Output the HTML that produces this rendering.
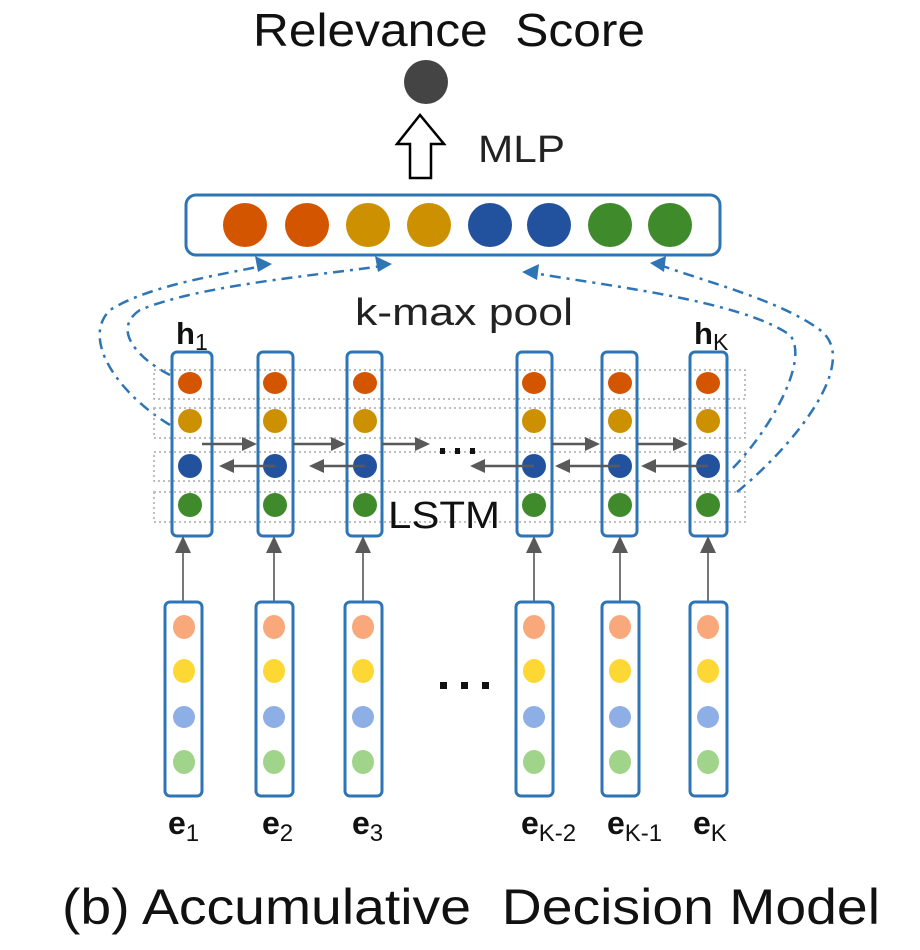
<!DOCTYPE html>
<html><head><style>
html,body{margin:0;padding:0;background:#fff;}
svg{display:block;}
text{font-family:"Liberation Sans",Arial,sans-serif;}
</style></head><body>
<svg width="920" height="950" viewBox="0 0 920 950" xmlns="http://www.w3.org/2000/svg">
<!-- Title -->
<text x="449" y="46" font-size="46" text-anchor="middle" fill="#111" textLength="392" lengthAdjust="spacingAndGlyphs">Relevance&#160;&#160;Score</text>
<circle cx="426" cy="82" r="22" fill="#444"/>
<polygon points="420,115 397,144 410,144 410,178 431,178 431,144 444,144" fill="#fff" stroke="#000" stroke-width="2.5"/>
<text x="478" y="162" font-size="38" fill="#222" textLength="87" lengthAdjust="spacingAndGlyphs">MLP</text>

<!-- pool box -->
<rect x="186" y="195" width="534" height="60" rx="10" fill="#fff" stroke="#2e75b6" stroke-width="3"/>
<circle cx="245" cy="225" r="22" fill="#d45500"/>
<circle cx="307" cy="225" r="22" fill="#d45500"/>
<circle cx="368" cy="225" r="22" fill="#cc9000"/>
<circle cx="429" cy="225" r="22" fill="#cc9000"/>
<circle cx="490" cy="225" r="22" fill="#22529e"/>
<circle cx="549" cy="225" r="22" fill="#22529e"/>
<circle cx="610" cy="225" r="22" fill="#3f8a2a"/>
<circle cx="670" cy="225" r="22" fill="#3f8a2a"/>

<text x="355" y="325" font-size="38" fill="#222" textLength="218" lengthAdjust="spacingAndGlyphs">k-max pool</text>

<g fill="none" stroke="#2e75b6" stroke-width="2.5" stroke-dasharray="11,6,3,6">
<path d="M170,425 C120,395 80,340 110,310 C150,285 220,275 262,266"/>
<path d="M170,375 C140,360 110,330 140,310 C200,285 320,275 382,266"/>
<path d="M737,492 C800,440 860,360 820,330 C780,300 700,280 660,265"/>
<path d="M733,468 C770,430 810,360 790,335 C740,300 600,285 534,273"/>
</g>
<g fill="#2e75b6">
<polygon points="272,264 255,256 258,272"/>
<polygon points="392,264 375,256 378,272"/>
<polygon points="650,263 666,256 664,272"/>
<polygon points="522,272 539,264 537,280"/>
</g>

<g fill="none" stroke="#aaa" stroke-width="1.5" stroke-dasharray="2,3">
<rect x="154" y="370" width="591" height="29"/>
<rect x="154" y="408" width="591" height="30"/>
<rect x="154" y="452" width="591" height="29"/>
<rect x="154" y="492" width="591" height="30"/>
</g>

<g stroke="#2e75b6" stroke-width="3" fill="none">
<rect x="172" y="352" width="40" height="184" rx="5"/>
<rect x="258" y="352" width="35" height="184" rx="5"/>
<rect x="347" y="352" width="35" height="184" rx="5"/>
<rect x="517" y="352" width="35" height="184" rx="5"/>
<rect x="602" y="352" width="35" height="184" rx="5"/>
<rect x="690" y="352" width="37" height="184" rx="5"/>
</g>
<g fill="#d45500">
<ellipse cx="190" cy="383" rx="12" ry="11"/><ellipse cx="275" cy="383" rx="12" ry="11"/><ellipse cx="365" cy="383" rx="12" ry="11"/><ellipse cx="534" cy="383" rx="12" ry="11"/><ellipse cx="620" cy="383" rx="12" ry="11"/><ellipse cx="708" cy="383" rx="12" ry="11"/>
</g>
<g fill="#cc9000">
<ellipse cx="190" cy="421" rx="12" ry="12"/><ellipse cx="275" cy="421" rx="12" ry="12"/><ellipse cx="365" cy="421" rx="12" ry="12"/><ellipse cx="534" cy="421" rx="12" ry="12"/><ellipse cx="620" cy="421" rx="12" ry="12"/><ellipse cx="708" cy="421" rx="12" ry="12"/>
</g>
<g fill="#22529e">
<ellipse cx="190" cy="466" rx="12" ry="12"/><ellipse cx="275" cy="466" rx="12" ry="12"/><ellipse cx="365" cy="466" rx="12" ry="12"/><ellipse cx="534" cy="466" rx="12" ry="12"/><ellipse cx="620" cy="466" rx="12" ry="12"/><ellipse cx="708" cy="466" rx="12" ry="12"/>
</g>
<g fill="#3f8a2a">
<ellipse cx="190" cy="505" rx="12" ry="12"/><ellipse cx="275" cy="505" rx="12" ry="12"/><ellipse cx="365" cy="505" rx="12" ry="12"/><ellipse cx="534" cy="505" rx="12" ry="12"/><ellipse cx="620" cy="505" rx="12" ry="12"/><ellipse cx="708" cy="505" rx="12" ry="12"/>
</g>

<g stroke="#595959" stroke-width="2.5">
<line x1="202" y1="444" x2="245" y2="444"/>
<line x1="293" y1="444" x2="334" y2="444"/>
<line x1="382" y1="444" x2="420" y2="444"/>
<line x1="552" y1="444" x2="590" y2="444"/>
<line x1="637" y1="444" x2="678" y2="444"/>
<line x1="275" y1="466" x2="232" y2="466"/>
<line x1="365" y1="466" x2="322" y2="466"/>
<line x1="534" y1="466" x2="482" y2="466"/>
<line x1="620" y1="466" x2="568" y2="466"/>
<line x1="708" y1="466" x2="655" y2="466"/>
</g>
<g fill="#595959">
<polygon points="257,444 242,437 242,451"/>
<polygon points="346,444 331,437 331,451"/>
<polygon points="430,444 415,437 415,451"/>
<polygon points="600,444 585,437 585,451"/>
<polygon points="688,444 673,437 673,451"/>
<polygon points="219,466 234,459 234,473"/>
<polygon points="309,466 324,459 324,473"/>
<polygon points="470,466 485,459 485,473"/>
<polygon points="555,466 570,459 570,473"/>
<polygon points="641,466 656,459 656,473"/>
</g>
<g fill="#111">
<rect x="440" y="448" width="5" height="6"/><rect x="455" y="448" width="5" height="6"/><rect x="470" y="448" width="5" height="6"/>
</g>
<text x="388" y="528" font-size="38" fill="#111" textLength="112" lengthAdjust="spacingAndGlyphs">LSTM</text>

<text x="176" y="344" font-size="31" font-weight="bold" fill="#111">h<tspan font-size="23" font-weight="normal" dy="6">1</tspan></text>
<text x="694" y="344" font-size="31" font-weight="bold" fill="#111">h<tspan font-size="23" font-weight="normal" dy="6">K</tspan></text>

<g stroke="#777" stroke-width="2">
<line x1="183" y1="602" x2="183" y2="552"/>
<line x1="274" y1="602" x2="274" y2="552"/>
<line x1="363" y1="602" x2="363" y2="552"/>
<line x1="534" y1="602" x2="534" y2="552"/>
<line x1="620" y1="602" x2="620" y2="552"/>
<line x1="708" y1="602" x2="708" y2="552"/>
</g>
<g fill="#595959">
<polygon points="183,536 175,553 191,553"/>
<polygon points="274,536 266,553 282,553"/>
<polygon points="363,536 355,553 371,553"/>
<polygon points="534,536 526,553 542,553"/>
<polygon points="620,536 612,553 628,553"/>
<polygon points="708,536 700,553 716,553"/>
</g>

<g stroke="#2e75b6" stroke-width="3" fill="none">
<rect x="165" y="602" width="37" height="194" rx="5"/>
<rect x="256" y="602" width="37" height="194" rx="5"/>
<rect x="345" y="602" width="37" height="194" rx="5"/>
<rect x="516" y="602" width="37" height="194" rx="5"/>
<rect x="602" y="602" width="37" height="194" rx="5"/>
<rect x="690" y="602" width="37" height="194" rx="5"/>
</g>
<g fill="#f9a87c">
<ellipse cx="184" cy="627" rx="11" ry="12"/><ellipse cx="274" cy="627" rx="11" ry="12"/><ellipse cx="363" cy="627" rx="11" ry="12"/><ellipse cx="534" cy="627" rx="11" ry="12"/><ellipse cx="620" cy="627" rx="11" ry="12"/><ellipse cx="708" cy="627" rx="11" ry="12"/>
</g>
<g fill="#fdd835">
<ellipse cx="184" cy="671" rx="11" ry="12"/><ellipse cx="274" cy="671" rx="11" ry="12"/><ellipse cx="363" cy="671" rx="11" ry="12"/><ellipse cx="534" cy="671" rx="11" ry="12"/><ellipse cx="620" cy="671" rx="11" ry="12"/><ellipse cx="708" cy="671" rx="11" ry="12"/>
</g>
<g fill="#8eaee6">
<ellipse cx="184" cy="717" rx="11" ry="11"/><ellipse cx="274" cy="717" rx="11" ry="11"/><ellipse cx="363" cy="717" rx="11" ry="11"/><ellipse cx="534" cy="717" rx="11" ry="11"/><ellipse cx="620" cy="717" rx="11" ry="11"/><ellipse cx="708" cy="717" rx="11" ry="11"/>
</g>
<g fill="#9fd48a">
<ellipse cx="184" cy="762" rx="11" ry="12"/><ellipse cx="274" cy="762" rx="11" ry="12"/><ellipse cx="363" cy="762" rx="11" ry="12"/><ellipse cx="534" cy="762" rx="11" ry="12"/><ellipse cx="620" cy="762" rx="11" ry="12"/><ellipse cx="708" cy="762" rx="11" ry="12"/>
</g>
<g fill="#111">
<rect x="440" y="682" width="7" height="7"/><rect x="461" y="682" width="7" height="7"/><rect x="482" y="682" width="7" height="7"/>
</g>

<g font-size="32" font-weight="bold" fill="#111">
<text x="168" y="834">e<tspan font-size="24" font-weight="normal" dy="7">1</tspan></text>
<text x="262" y="834">e<tspan font-size="24" font-weight="normal" dy="7">2</tspan></text>
<text x="352" y="834">e<tspan font-size="24" font-weight="normal" dy="7">3</tspan></text>
<text x="521" y="834">e<tspan font-size="24" font-weight="normal" dy="7">K-2</tspan></text>
<text x="607" y="834">e<tspan font-size="24" font-weight="normal" dy="7">K-1</tspan></text>
<text x="693" y="834">e<tspan font-size="24" font-weight="normal" dy="7">K</tspan></text>
</g>

<text x="62" y="924" font-size="50" fill="#111" textLength="818" lengthAdjust="spacingAndGlyphs">(b) Accumulative&#160;&#160;Decision Model</text>
</svg>
</body></html>
